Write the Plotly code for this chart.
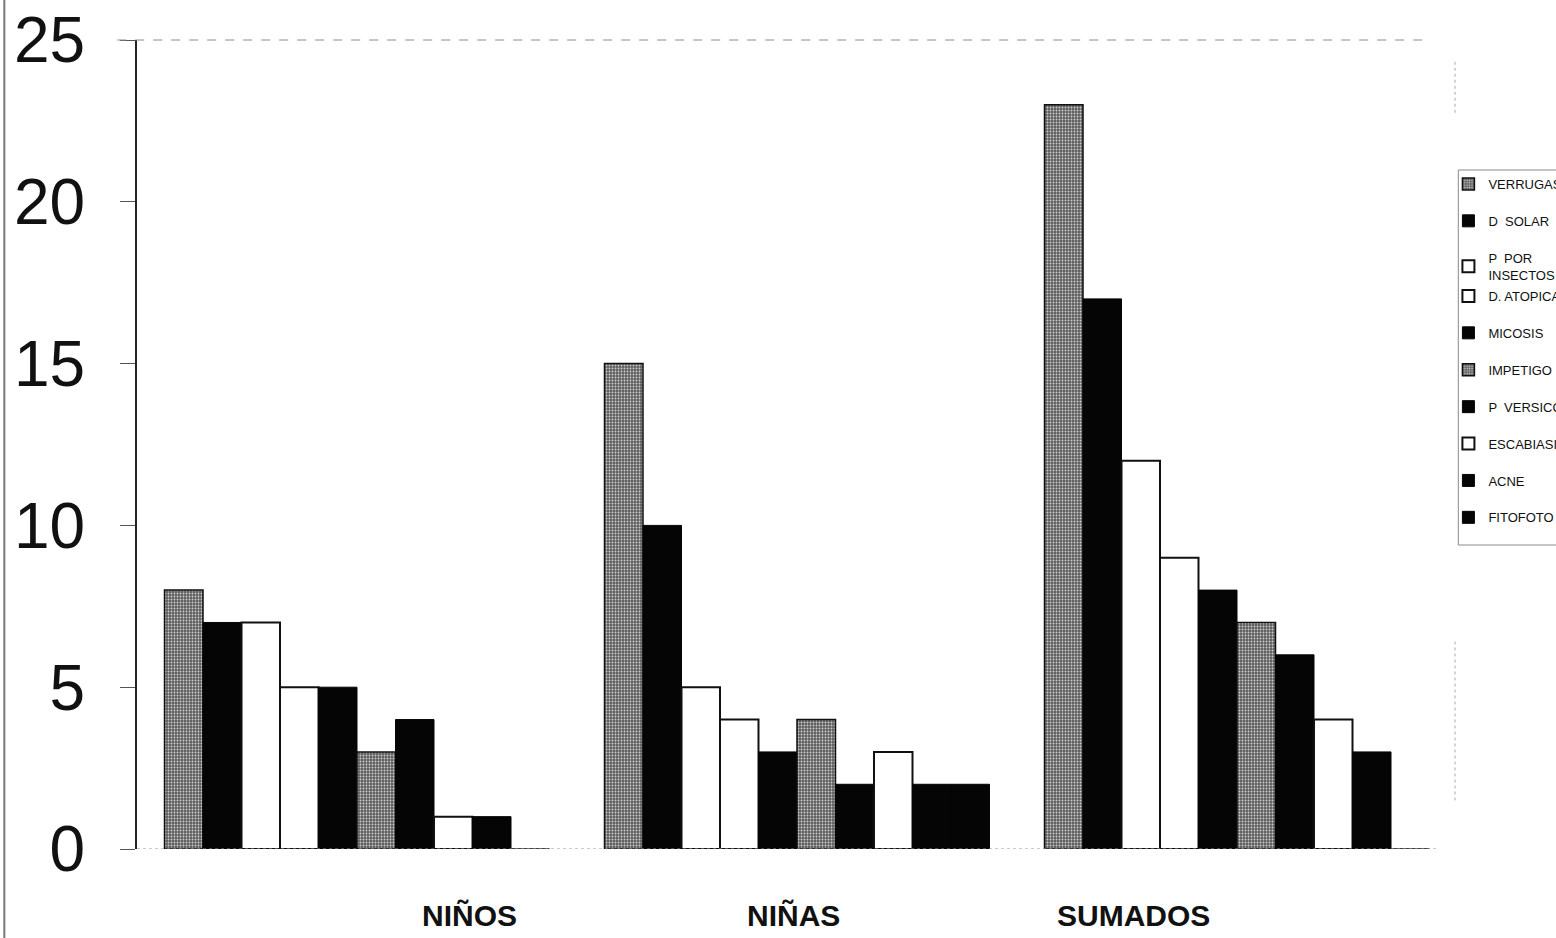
import plotly.graph_objects as go

# Groups on the x axis
groups = ["NIÑOS", "NIÑAS", "SUMADOS"]

# One series per skin condition: values for NIÑOS, NIÑAS, SUMADOS
verrugas = [8, 15, 23]
d_solar = [7, 10, 17]
p_insectos = [7, 5, 12]
d_atopica = [5, 4, 9]
micosis = [5, 3, 8]
impetigo = [3, 4, 7]
p_versicolor = [4, 2, 6]
escabiasis = [1, 3, 4]
acne = [1, 2, 3]
fitofoto = [0, 2, 0]

series_names = ["VERRUGAS", "D  SOLAR", "P  POR<br>INSECTOS", "D. ATOPICA", "MICOSIS",
                "IMPETIGO", "P  VERSICOLOR", "ESCABIASIS", "ACNE", "FITOFOTO"]
series_values = [verrugas, d_solar, p_insectos, d_atopica, micosis,
                 impetigo, p_versicolor, escabiasis, acne, fitofoto]
series_fill = ["gray", "black", "white", "white", "black",
               "gray", "black", "white", "black", "black"]

y_ticks = [0, 5, 10, 15, 20, 25]

FONT = "Liberation Sans, Arial, sans-serif"
PLOT_TOP, PLOT_BOTTOM = 40, 849


def paper_y(px):
    """Convert a pixel row of the page into paper coordinates."""
    return (PLOT_BOTTOM - px) / (PLOT_BOTTOM - PLOT_TOP)


fig = go.Figure()
for i, (name, vals, fill) in enumerate(zip(series_names, series_values, series_fill)):
    if fill == "gray":
        marker = dict(color="#5e5e5e",
                      pattern=dict(shape=".", fgcolor="#cfcfcf", bgcolor="#5e5e5e",
                                   size=3, solidity=0.3, fillmode="replace"),
                      line=dict(color="#111111", width=1.5))
    elif fill == "white":
        marker = dict(color="white", line=dict(color="#111111", width=2))
    else:
        marker = dict(color="#050505", line=dict(color="#050505", width=1))
    # the two-line entry sits tight against the next one, so the list is split in two
    fig.add_trace(go.Bar(x=groups, y=vals, name=name, marker=marker,
                         legendgroup=name, legend="legend" if i < 3 else "legend2"))

# Category labels sit below the axis, offset from the group centres
label_shift = {"NIÑOS": 112, "NIÑAS": -4, "SUMADOS": -104}
annotations = [
    dict(x=g, y=paper_y(916), xref="x", yref="paper", text="<b>%s</b>" % g,
         showarrow=False, xshift=label_shift[g], yanchor="middle",
         font=dict(family=FONT, size=30, color="#111111"))
    for g in groups
]
# Chart title, mostly above the top edge of the page
annotations.append(dict(x=0.449, y=1.034, xref="paper", yref="paper",
                        text="<b>EDAD</b>", showarrow=False, yanchor="bottom",
                        font=dict(family=FONT, size=47, color="#111111")))

shapes = [
    # dashed top border of the plot area
    dict(type="line", xref="paper", yref="paper", x0=-0.015, x1=0.975, y0=1, y1=1,
         line=dict(color="#8a8a8a", width=1, dash="dash")),
    # faint baseline
    dict(type="line", xref="paper", yref="y", x0=0, x1=0.985, y0=0, y1=0,
         line=dict(color="#999999", width=1, dash="dot")),
    # right border fragments
    dict(type="line", xref="paper", yref="paper", x0=0.9985, x1=0.9985, y0=0.91, y1=0.975,
         line=dict(color="#aaaaaa", width=1, dash="dot")),
    dict(type="line", xref="paper", yref="paper", x0=0.9985, x1=0.9985, y0=0.06, y1=0.26,
         line=dict(color="#aaaaaa", width=1, dash="dot")),
    # legend frame
    dict(type="rect", xref="paper", yref="paper", x0=1.001, x1=1.08,
         y0=paper_y(545), y1=paper_y(170),
         line=dict(color="#8a8a8a", width=1), fillcolor="rgba(0,0,0,0)"),
    # page edge on the left
    dict(type="line", xref="paper", yref="paper", x0=-0.1005, x1=-0.1005, y0=-0.11, y1=1.053,
         line=dict(color="#777777", width=2)),
]

legend_style = dict(xanchor="left", yanchor="top",
                    font=dict(family=FONT, size=13, color="#111111"),
                    borderwidth=0, bgcolor="rgba(0,0,0,0)",
                    tracegroupgap=17, itemwidth=30, traceorder="grouped")

fig.update_layout(
    width=1556, height=938,
    margin=dict(l=137, r=99, t=PLOT_TOP, b=938 - PLOT_BOTTOM, autoexpand=False),
    paper_bgcolor="white", plot_bgcolor="white",
    barmode="group", bargap=0.125, bargroupgap=0,
    font=dict(family=FONT, color="#111111"),
    showlegend=True,
    legend=dict(x=0.9935, y=paper_y(169), **legend_style),
    legend2=dict(x=0.9935, y=paper_y(281), **legend_style),
    annotations=annotations,
    shapes=shapes,
)

fig.update_xaxes(showticklabels=False, showline=False, showgrid=False,
                 zeroline=False, ticks="")
fig.update_yaxes(range=[0, 25], tickvals=y_ticks, ticktext=[str(v) for v in y_ticks],
                 showgrid=False, zeroline=False, showline=True,
                 linecolor="#222222", linewidth=2, ticks="outside", ticklen=15,
                 tickcolor="#555555", tickwidth=1, ticklabelstandoff=22,
                 tickfont=dict(family=FONT, size=64, color="#111111"))

fig.write_html("out.html")
